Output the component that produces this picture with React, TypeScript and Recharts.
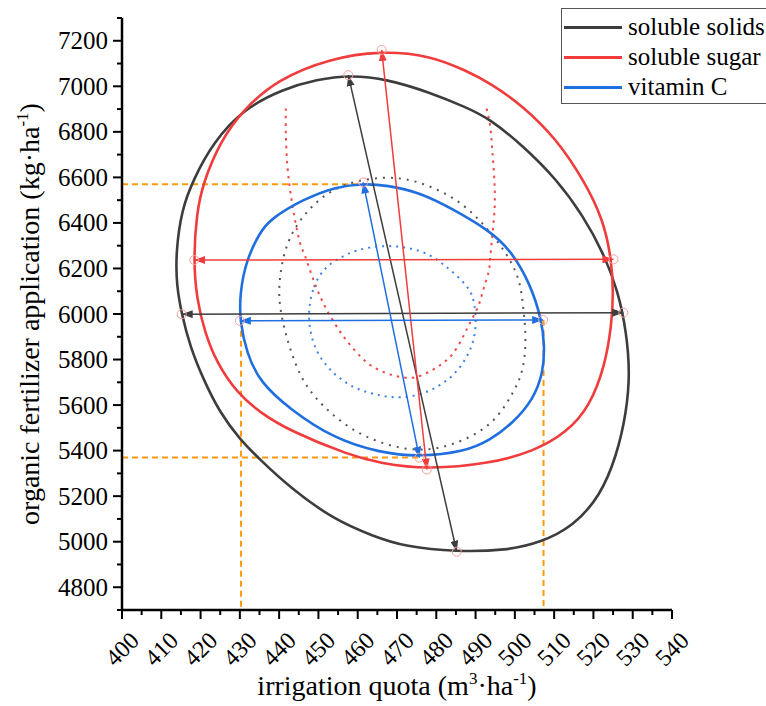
import React from 'react';
import { ComposedChart, Line, XAxis, YAxis, Legend } from 'recharts';

const xTicks = [400, 405, 410, 415, 420, 425, 430, 435, 440, 445, 450, 455, 460, 465, 470, 475, 480, 485, 490, 495, 500, 505, 510, 515, 520, 525, 530, 535, 540];
const yTicks = [4700, 4800, 4900, 5000, 5100, 5200, 5300, 5400, 5500, 5600, 5700, 5800, 5900, 6000, 6100, 6200, 6300, 6400, 6500, 6600, 6700, 6800, 6900, 7000, 7100, 7200, 7300];

const solubleSolids = [
  { x: 413.7, y: 6270 }, { x: 415.2, y: 6460 }, { x: 418.2, y: 6592 }, { x: 423.2, y: 6753 }, { x: 430.9, y: 6900 },
  { x: 441.0, y: 6988 }, { x: 449.6, y: 7030 }, { x: 458.0, y: 7049 }, { x: 467.4, y: 7032 }, { x: 478.4, y: 6973 },
  { x: 487.7, y: 6907 }, { x: 493.7, y: 6856 }, { x: 502.1, y: 6738 }, { x: 510.6, y: 6592 }, { x: 517.4, y: 6431 },
  { x: 522.5, y: 6270 }, { x: 526.4, y: 6094 }, { x: 528.4, y: 5918 }, { x: 529.3, y: 5742 }, { x: 528.4, y: 5567 },
  { x: 525.9, y: 5376 }, { x: 521.7, y: 5200 }, { x: 514.9, y: 5068 }, { x: 506.4, y: 4995 }, { x: 497.9, y: 4962 },
  { x: 485.2, y: 4955 }, { x: 472.0, y: 4978 }, { x: 464.0, y: 5024 }, { x: 453.8, y: 5098 }, { x: 442.8, y: 5237 },
  { x: 435.1, y: 5361 }, { x: 430.0, y: 5449 }, { x: 424.9, y: 5567 }, { x: 420.7, y: 5713 }, { x: 417.3, y: 5859 },
  { x: 415.2, y: 6000 }, { x: 413.9, y: 6123 },
];

const solubleSugar = [
  { x: 418.2, y: 6240 }, { x: 419.0, y: 6446 }, { x: 420.7, y: 6578 }, { x: 424.9, y: 6753 }, { x: 430.5, y: 6892 },
  { x: 439.7, y: 7032 }, { x: 452.9, y: 7122 }, { x: 465.7, y: 7156 }, { x: 478.4, y: 7136 }, { x: 487.7, y: 7068 },
  { x: 493.7, y: 7014 }, { x: 502.1, y: 6914 }, { x: 510.6, y: 6768 }, { x: 517.4, y: 6592 }, { x: 522.5, y: 6416 },
  { x: 524.6, y: 6240 }, { x: 525.1, y: 6094 }, { x: 524.6, y: 5947 }, { x: 522.9, y: 5771 }, { x: 519.1, y: 5596 },
  { x: 513.2, y: 5479 }, { x: 504.7, y: 5396 }, { x: 493.7, y: 5343 }, { x: 477.6, y: 5317 }, { x: 465.7, y: 5345 },
  { x: 458.0, y: 5379 }, { x: 442.8, y: 5486 }, { x: 435.1, y: 5567 }, { x: 429.2, y: 5655 }, { x: 424.1, y: 5786 },
  { x: 421.1, y: 5918 }, { x: 419.0, y: 6065 },
];

const vitaminC = [
  { x: 430.0, y: 5969 }, { x: 430.0, y: 6094 }, { x: 431.7, y: 6240 }, { x: 435.1, y: 6358 }, { x: 437.7, y: 6416 },
  { x: 446.1, y: 6504 }, { x: 454.6, y: 6560 }, { x: 461.4, y: 6572 }, { x: 467.4, y: 6566 }, { x: 475.8, y: 6534 },
  { x: 484.3, y: 6460 }, { x: 493.2, y: 6370 }, { x: 498.8, y: 6284 }, { x: 503.8, y: 6138 }, { x: 506.8, y: 5977 },
  { x: 507.6, y: 5859 }, { x: 507.2, y: 5742 }, { x: 504.7, y: 5625 }, { x: 499.6, y: 5523 }, { x: 493.7, y: 5445 },
  { x: 486.9, y: 5394 }, { x: 475.8, y: 5373 }, { x: 465.7, y: 5390 }, { x: 453.8, y: 5454 }, { x: 442.8, y: 5581 },
  { x: 435.1, y: 5700 }, { x: 431.7, y: 5830 },
];

const solidsDotted = [
  { x: 439.8, y: 6065 }, { x: 440.2, y: 6182 }, { x: 441.9, y: 6314 }, { x: 445.3, y: 6416 }, { x: 450.4, y: 6512 },
  { x: 457.2, y: 6578 }, { x: 466.5, y: 6604 }, { x: 473.3, y: 6592 }, { x: 479.2, y: 6556 }, { x: 485.2, y: 6504 },
  { x: 491.1, y: 6416 }, { x: 497.9, y: 6270 }, { x: 501.3, y: 6153 }, { x: 502.1, y: 6035 }, { x: 503.0, y: 5889 },
  { x: 502.1, y: 5742 }, { x: 499.6, y: 5655 }, { x: 495.4, y: 5537 }, { x: 490.0, y: 5470 }, { x: 484.0, y: 5425 },
  { x: 478.4, y: 5402 }, { x: 472.0, y: 5405 }, { x: 465.7, y: 5435 }, { x: 459.7, y: 5479 }, { x: 453.8, y: 5552 },
  { x: 448.7, y: 5640 }, { x: 445.3, y: 5727 }, { x: 442.8, y: 5845 }, { x: 441.1, y: 5947 },
];

const vitaminDotted = [
  { x: 447.4, y: 6021 }, { x: 448.7, y: 6123 }, { x: 451.2, y: 6197 }, { x: 454.6, y: 6240 }, { x: 459.7, y: 6284 },
  { x: 466.9, y: 6303 }, { x: 473.3, y: 6292 }, { x: 478.4, y: 6262 }, { x: 481.8, y: 6218 }, { x: 485.2, y: 6170 },
  { x: 488.6, y: 6109 }, { x: 489.8, y: 6050 }, { x: 490.3, y: 5933 }, { x: 488.6, y: 5830 }, { x: 485.2, y: 5742 },
  { x: 480.9, y: 5683 }, { x: 475.8, y: 5643 }, { x: 469.9, y: 5629 }, { x: 464.0, y: 5647 }, { x: 458.8, y: 5676 },
  { x: 454.6, y: 5727 }, { x: 452.1, y: 5771 }, { x: 449.6, y: 5830 }, { x: 447.8, y: 5918 },
];

const sugarDotted = [
  { x: 441.7, y: 6903 }, { x: 441.7, y: 6797 }, { x: 442.1, y: 6651 }, { x: 443.0, y: 6519 }, { x: 444.0, y: 6416 },
  { x: 445.3, y: 6314 }, { x: 446.6, y: 6255 }, { x: 448.3, y: 6170 }, { x: 450.4, y: 6079 }, { x: 452.5, y: 6006 },
  { x: 455.1, y: 5933 }, { x: 457.6, y: 5874 }, { x: 460.6, y: 5815 }, { x: 463.6, y: 5771 }, { x: 467.0, y: 5742 },
  { x: 469.9, y: 5727 }, { x: 473.3, y: 5720 }, { x: 476.3, y: 5731 }, { x: 479.3, y: 5757 }, { x: 481.8, y: 5786 },
  { x: 484.4, y: 5830 }, { x: 486.9, y: 5903 }, { x: 488.6, y: 5962 }, { x: 490.7, y: 6035 }, { x: 492.0, y: 6109 },
  { x: 493.3, y: 6182 }, { x: 493.7, y: 6240 }, { x: 494.5, y: 6387 }, { x: 494.9, y: 6534 }, { x: 494.3, y: 6709 },
  { x: 493.7, y: 6826 }, { x: 492.8, y: 6903 },
];

const solidsH = [{ x: 415.2, y: 5999 }, { x: 527.6, y: 6006 }];
const solidsD = [{ x: 457.6, y: 7049 }, { x: 485.2, y: 4956 }];
const sugarH = [{ x: 418.4, y: 6237 }, { x: 525.1, y: 6240 }];
const sugarD = [{ x: 466.1, y: 7160 }, { x: 477.6, y: 5317 }];
const vitH = [{ x: 430.0, y: 5970 }, { x: 507.2, y: 5974 }];
const vitD = [{ x: 461.4, y: 6578 }, { x: 475.7, y: 5369 }];

const endpoints = [...solidsH, ...solidsD, ...sugarH, ...sugarD, ...vitH, ...vitD];

const optTop = [{ x: 400, y: 6570 }, { x: 461.4, y: 6570 }];
const optBottom = [{ x: 400, y: 5370 }, { x: 475.7, y: 5370 }];
const optLeft = [{ x: 430.3, y: 5970 }, { x: 430.3, y: 4700 }];
const optRight = [{ x: 507.3, y: 5974 }, { x: 507.3, y: 4700 }];

const legendItems = [
  { name: 'soluble solids', color: '#3d3d3d' },
  { name: 'soluble sugar', color: '#f03c3c' },
  { name: 'vitamin C', color: '#1f6fe0' },
];

const FONT = '"Liberation Serif", "Times New Roman", serif';
const BLACK = '#3d3d3d';
const RED = '#f03c3c';
const BLUE = '#1f6fe0';
const ORANGE = '#ff9a10';

const YTick = (props: any) => {
  const { x, y, payload } = props;
  const v = payload.value;
  const major = v % 200 === 0;
  return (
    <g>
      <line x1={x - (major ? 9 : 5)} x2={x} y1={y} y2={y} stroke="#000" strokeWidth={2} />
      {major && v >= 4800 && v <= 7200 && (
        <text x={x - 14} y={y} textAnchor="end" dominantBaseline="central" fontSize={25} fontFamily={FONT} fill="#000">
          {v}
        </text>
      )}
    </g>
  );
};

const XTick = (props: any) => {
  const { x, y, payload } = props;
  const v = payload.value;
  const major = v % 10 === 0;
  const ty = y + 39;
  return (
    <g>
      <line x1={x} x2={x} y1={y} y2={y + (major ? 9 : 5)} stroke="#000" strokeWidth={2} />
      {major && (
        <text x={x} y={ty} textAnchor="middle" dominantBaseline="central" fontSize={24} fontFamily={FONT} fill="#000"
          transform={`rotate(-45, ${x}, ${ty})`}>
          {v}
        </text>
      )}
    </g>
  );
};

const LegendBox = () => (
  <div style={{ border: '1px solid #555', background: '#fff', width: 215, height: 96, padding: '3px 0 0 0', fontFamily: FONT, boxSizing: 'border-box' }}>
    {legendItems.map((it) => (
      <div key={it.name} style={{ display: 'flex', alignItems: 'center', height: 30 }}>
        <div style={{ width: 58, height: 3, background: it.color, marginLeft: 2, marginRight: 6 }} />
        <span style={{ fontSize: 25, color: '#000', lineHeight: '30px', whiteSpace: 'nowrap' }}>{it.name}</span>
      </div>
    ))}
  </div>
);

const Markers = () => (
  <svg width={0} height={0} style={{ position: 'absolute' }}>
    <defs>
      {[['arrowBlack', BLACK], ['arrowRed', RED], ['arrowBlue', BLUE]].map(([id, c]) => (
        <marker key={id} id={id} viewBox="0 0 10 10" refX={10} refY={5} markerWidth={11} markerHeight={8}
          markerUnits="userSpaceOnUse" orient="auto-start-reverse" preserveAspectRatio="none">
          <path d="M0,0 L10,5 L0,10 z" fill={c} />
        </marker>
      ))}
    </defs>
  </svg>
);

export default function App() {
  const arrow = (data: any[], color: string, id: string, key: string) => (
    <Line key={key} data={data} dataKey="y" type="linear" stroke={color} strokeWidth={1.5} dot={false}
      isAnimationActive={false} markerStart={`url(#${id})`} markerEnd={`url(#${id})`} legendType="none" />
  );
  const orange = (data: any[], key: string) => (
    <Line key={key} data={data} dataKey="y" type="linear" stroke={ORANGE} strokeWidth={2} strokeDasharray="6 4"
      dot={false} isAnimationActive={false} legendType="none" />
  );
  return (
    <div style={{ position: 'absolute', left: 0, top: 0, width: 766, height: 706, overflow: 'hidden', background: '#fff' }}>
      <Markers />
      <ComposedChart width={766} height={706} margin={{ top: 18, right: 94, left: 0, bottom: 0 }}>
        <XAxis type="number" dataKey="x" domain={[400, 540]} ticks={xTicks} interval={0} allowDataOverflow
          height={96} tickSize={0} tickMargin={0} tickLine={false} tick={<XTick />}
          axisLine={{ stroke: '#000', strokeWidth: 2.5 }} />
        <YAxis type="number" domain={[4700, 7300]} ticks={yTicks} interval={0} allowDataOverflow
          width={122} tickSize={0} tickMargin={0} tickLine={false} tick={<YTick />}
          axisLine={{ stroke: '#000', strokeWidth: 2.5 }} />
        {orange(optTop, 'o1')}
        {orange(optBottom, 'o2')}
        {orange(optLeft, 'o3')}
        {orange(optRight, 'o4')}
        <Line data={solidsDotted} dataKey="y" type="basisClosed" stroke="#555" strokeWidth={2} strokeDasharray="2 6" dot={false} isAnimationActive={false} legendType="none" />
        <Line data={vitaminDotted} dataKey="y" type="basisClosed" stroke="#3b80e8" strokeWidth={2} strokeDasharray="2 5" dot={false} isAnimationActive={false} legendType="none" />
        <Line data={sugarDotted} dataKey="y" type="natural" stroke="#f04848" strokeWidth={2} strokeDasharray="2.5 5" dot={false} isAnimationActive={false} legendType="none" />
        <Line data={solubleSolids} dataKey="y" name="soluble solids" type="basisClosed" stroke={BLACK} strokeWidth={2.6} dot={false} isAnimationActive={false} />
        <Line data={solubleSugar} dataKey="y" name="soluble sugar" type="basisClosed" stroke={RED} strokeWidth={2.6} dot={false} isAnimationActive={false} />
        <Line data={vitaminC} dataKey="y" name="vitamin C" type="basisClosed" stroke={BLUE} strokeWidth={2.6} dot={false} isAnimationActive={false} />
        {arrow(solidsH, BLACK, 'arrowBlack', 'a1')}
        {arrow(solidsD, BLACK, 'arrowBlack', 'a2')}
        {arrow(sugarH, RED, 'arrowRed', 'a3')}
        {arrow(sugarD, RED, 'arrowRed', 'a4')}
        {arrow(vitH, BLUE, 'arrowBlue', 'a5')}
        {arrow(vitD, BLUE, 'arrowBlue', 'a6')}
        <Line data={endpoints} dataKey="y" type="linear" stroke="none" isAnimationActive={false} legendType="none"
          dot={{ r: 4.5, fill: 'none', stroke: '#f5a0a0', strokeWidth: 1 }} activeDot={false} />
        <Legend layout="horizontal" verticalAlign="middle" align="center"
          wrapperStyle={{ position: 'absolute', left: 561, top: 8, width: 215, height: 96 }}
          content={() => <LegendBox />} />
        <text x={397} y={695} textAnchor="middle" fontSize={28} fontFamily={FONT} fill="#000">
          irrigation quota (m<tspan dy={-11} fontSize={17}>3</tspan><tspan dy={11}>·ha</tspan><tspan dy={-11} fontSize={17}>-1</tspan><tspan dy={11}>)</tspan>
        </text>
        <text x={39} y={314} textAnchor="middle" fontSize={28} fontFamily={FONT} fill="#000" transform="rotate(-90, 39, 314)">
          organic fertilizer application (kg·ha<tspan dy={-11} fontSize={17}>-1</tspan><tspan dy={11}>)</tspan>
        </text>
      </ComposedChart>
    </div>
  );
}
